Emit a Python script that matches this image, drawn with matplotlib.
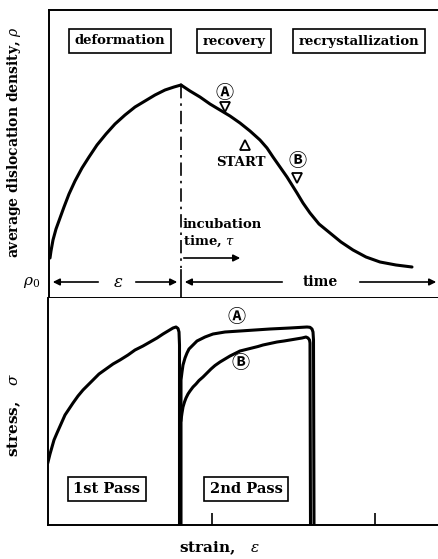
import matplotlib
matplotlib.use("Agg")
import matplotlib.pyplot as plt

plt.rcParams['mathtext.fontset'] = 'dejavuserif'
SERIF = ['DejaVu Serif', 'DejaVu Sans']
CIRC = ['Noto Sans CJK JP', 'DejaVu Sans']

# ---- top panel: average dislocation density vs time (schematic) ----
rise_t = [1, 2, 4, 7, 11, 15, 20, 26, 33, 40, 48, 57, 66, 76, 86, 96, 106, 116, 125, 132]
rise_rho = [40, 47, 58, 69, 80, 91, 104, 117, 130, 141, 153, 164, 174, 183, 191, 197, 203, 208, 211, 213]
fall_t = [132, 141, 151, 161, 171, 181, 191, 201, 211, 218, 224, 231, 238, 243, 248, 254,
          261, 270, 281, 292, 304, 317, 331, 347, 363]
fall_rho = [213, 207, 201, 194, 188, 182, 175, 167, 158, 150, 141, 131, 121, 113, 105, 95,
            85, 74, 65, 56, 48, 41, 36, 33, 31]
peak_t = 132
stage_labels = ['deformation', 'recovery', 'recrystallization']
stage_x = [71, 185, 310]

# ---- bottom panel: stress vs strain (schematic) ----
p1_strain = [0, 2, 4, 6, 9, 13, 17, 21, 25, 30, 35, 40, 45, 51, 58, 65, 72, 80, 87, 95,
             102, 109, 115, 120, 125, 128, 130, 131, 131.5, 131.5]
p1_stress = [63, 71, 78, 85, 92, 101, 110, 116, 122, 129, 135, 140, 145, 151, 156, 161, 165, 170, 175, 179,
             183, 187, 191, 194, 197, 198, 196.5, 193, 180, 0]
pA_strain = [133, 133, 134, 135, 137, 139, 141, 144, 149, 153, 157, 165, 177, 192, 207, 222,
             242, 259, 262, 264, 265, 265.5, 266]
pA_stress = [0, 145, 153, 160, 167, 172, 176, 179, 184, 186, 188, 191, 193, 194, 195, 196,
             197, 198, 197.7, 196, 193, 185, 0]
pB_strain = [133, 134, 135, 136.5, 138, 140, 142, 145, 148, 151, 155, 159, 163, 167, 172, 177,
             182, 187, 192, 198, 204, 210, 215, 222, 229, 236, 242, 248, 254, 258, 260, 261.5, 262, 262.5]
pB_stress = [105, 112, 118, 123, 127, 131, 134, 138, 141, 144.5, 148, 152, 156, 159.5, 163, 166,
             169, 171.5, 174, 175.5, 177, 178.5, 180, 181.5, 183, 184, 185, 186, 187, 188, 187, 185, 182, 0]
strain_ticks = [164, 327]

W, H = 439, 559
fig = plt.figure(figsize=(W / 100, H / 100), dpi=100)

ax1 = fig.add_axes([49 / W, 1 - 298 / H, 390 / W, 288 / H])
ax2 = fig.add_axes([48 / W, 1 - 525 / H, 391 / W, 227 / H])

LW = 2.2
for ax in (ax1, ax2):
    ax.spines['right'].set_visible(False)
    for s in ('left', 'top', 'bottom'):
        ax.spines[s].set_linewidth(1.4)
ax2.spines['top'].set_visible(False)

# top
ax1.set_xlim(0, 390)
ax1.set_ylim(0, 288)
ax1.set_xticks([])
ax1.set_yticks([])
ax1.plot(rise_t, rise_rho, color='black', lw=LW, solid_joinstyle='round', solid_capstyle='round')
ax1.plot(fall_t, fall_rho, color='black', lw=LW, solid_joinstyle='round', solid_capstyle='round')
ax1.plot([peak_t, peak_t], [213, 30], color='black', lw=1.2, linestyle=(0, (8, 3, 1.5, 3)))
ax1.plot([peak_t, peak_t], [28, 0], color='black', lw=1.2)

for lab, x in zip(stage_labels, stage_x):
    ax1.text(x, 257, lab, ha='center', va='center', fontsize=9.5, family=SERIF, weight='bold',
             bbox=dict(boxstyle='square,pad=0.45', fc='white', ec='black', lw=1.2))

# markers
ax1.text(176, 206, 'Ⓐ', ha='center', va='center', fontsize=13, family=CIRC, weight='bold')
ax1.plot([176], [191], marker='v', ms=7, mfc='white', mec='black', mew=1.3, ls='none')
ax1.plot([196], [153], marker='^', ms=7, mfc='white', mec='black', mew=1.3, ls='none')
ax1.text(192, 135, 'START', ha='center', va='center', fontsize=9.5, family=SERIF, weight='bold')
ax1.text(249, 138, 'Ⓑ', ha='center', va='center', fontsize=13, family=CIRC, weight='bold')
ax1.plot([248], [120], marker='v', ms=7, mfc='white', mec='black', mew=1.3, ls='none')

ax1.text(134, 73, 'incubation', ha='left', va='center', fontsize=9.5, family=SERIF, weight='bold')
ax1.text(134, 57, r'time, $\tau$', ha='left', va='center', fontsize=9.5, family=SERIF, weight='bold')
ax1.annotate('', xy=(194, 40), xytext=(132, 40),
             arrowprops=dict(arrowstyle='-|>', color='black', lw=1.2, mutation_scale=10))

# rho0 row
row_y = 16
arr = dict(arrowstyle='-|>', color='black', lw=1.2, mutation_scale=10)
ax1.annotate('', xy=(1, row_y), xytext=(52, row_y), arrowprops=arr)
ax1.annotate('', xy=(131, row_y), xytext=(84, row_y), arrowprops=arr)
ax1.text(69, row_y, r'$\varepsilon$', ha='center', va='center', fontsize=12)
ax1.annotate('', xy=(133, row_y), xytext=(236, row_y), arrowprops=arr)
ax1.text(271, row_y, 'time', ha='center', va='center', fontsize=10, family=SERIF, weight='bold')
ax1.annotate('', xy=(390, row_y), xytext=(308, row_y), arrowprops=arr, annotation_clip=False)
fig.text(32 / W, 1 - 282 / H, r'$\rho_0$', ha='center', va='center', fontsize=11)

# bottom
ax2.set_xlim(0, 391)
ax2.set_ylim(0, 227)
ax2.set_yticks([])
ax2.set_xticks(strain_ticks)
ax2.set_xticklabels([])
ax2.tick_params(axis='x', direction='in', length=9, width=1.2)
ax2.plot(p1_strain, p1_stress, color='black', lw=LW, solid_joinstyle='round')
ax2.plot(pA_strain, pA_stress, color='black', lw=LW, solid_joinstyle='round')
ax2.plot(pB_strain, pB_stress, color='black', lw=LW, solid_joinstyle='round')
ax2.text(189, 208, 'Ⓐ', ha='center', va='center', fontsize=13, family=CIRC, weight='bold')
ax2.text(193, 163, 'Ⓑ', ha='center', va='center', fontsize=13, family=CIRC, weight='bold')
for lab, x in zip(['1st Pass', '2nd Pass'], [59, 198]):
    ax2.text(x, 36, lab, ha='center', va='center', fontsize=10.5, family=SERIF, weight='bold',
             bbox=dict(boxstyle='square,pad=0.35', fc='white', ec='black', lw=1.2))

# axis labels
fig.text(14 / W, 1 - 142 / H, r'average dislocation density, $\rho$', rotation=90,
         ha='center', va='center', fontsize=10, family=SERIF, weight='bold')
fig.text(14 / W, 1 - 415 / H, r'stress,   $\sigma$', rotation=90,
         ha='center', va='center', fontsize=11, family=SERIF, weight='bold')
fig.text(220 / W, 1 - 548 / H, r'strain,   $\varepsilon$',
         ha='center', va='center', fontsize=11, family=SERIF, weight='bold')

fig.savefig('out.png', dpi=100)
